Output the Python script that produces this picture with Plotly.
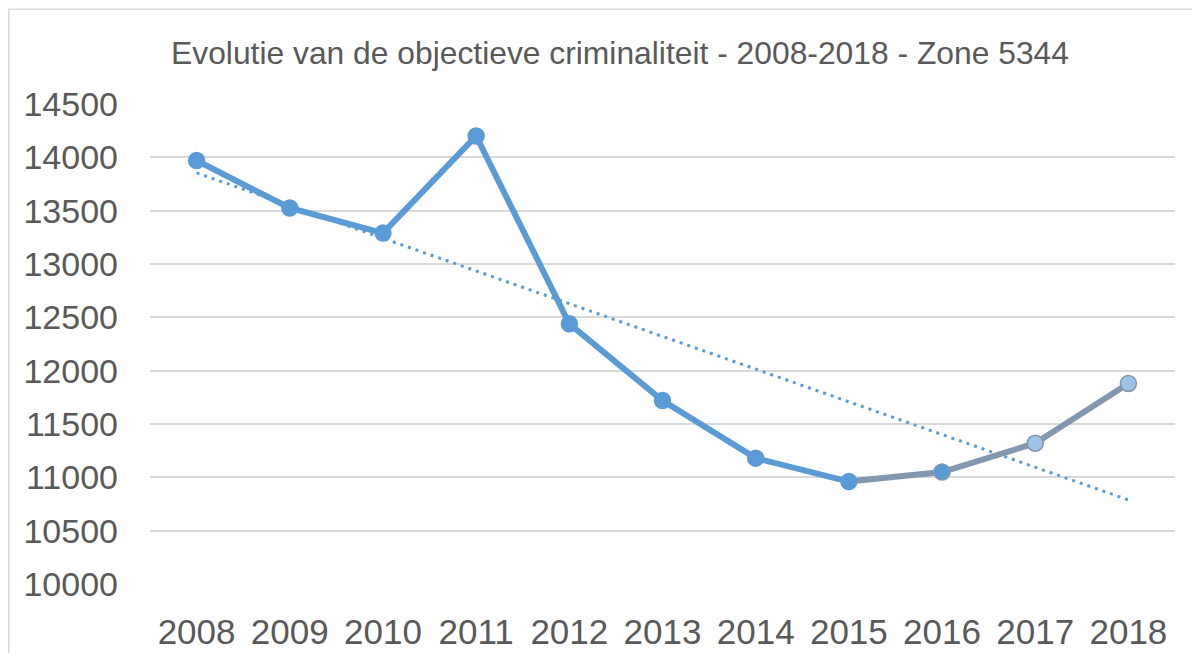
import numpy as np
import plotly.graph_objects as go

years = ["2008", "2009", "2010", "2011", "2012", "2013", "2014", "2015", "2016", "2017", "2018"]
values = [13970, 13525, 13290, 14200, 12440, 11720, 11180, 10960, 11050, 11320, 11880]
title_text = "Evolutie van de objectieve criminaliteit - 2008-2018 - Zone 5344"
y_ticks = [10000, 10500, 11000, 11500, 12000, 12500, 13000, 13500, 14000, 14500]
y_ticktext = [str(v) for v in y_ticks]

BLUE = "#5B9BD5"
GREY = "#8497B0"
LIGHT = "#9DC3E6"
TXT = "#595959"
GRID = "#D9D9D9"

# linear trendline fitted to the data
idx = np.arange(len(values))
slope, intercept = np.polyfit(idx, values, 1)
trend = slope * idx + intercept

fig = go.Figure()

fig.add_trace(go.Scatter(x=years, y=trend, mode="lines",
                         line=dict(color=BLUE, width=3, dash="3px,5px"),
                         hoverinfo="skip", showlegend=False))

fig.add_trace(go.Scatter(x=years[:8], y=values[:8], mode="lines",
                         line=dict(color=BLUE, width=6), showlegend=False))
fig.add_trace(go.Scatter(x=years[7:], y=values[7:], mode="lines",
                         line=dict(color=GREY, width=6), showlegend=False))

m_colors = [BLUE] * 9 + [LIGHT, LIGHT]
m_lines = [BLUE] * 8 + [GREY, GREY, GREY]
fig.add_trace(go.Scatter(x=years, y=values, mode="markers",
                         marker=dict(size=16, color=m_colors,
                                     line=dict(color=m_lines, width=1.5)),
                         showlegend=False))

# the page body has an 8px margin: figure coords = page coords - 8
OFF = 8
W, H = 1200, 653
L = 150 - OFF
T = 104 - OFF
R = W - (1175 - OFF)
B = H - (584 - OFF)
pw, ph = W - L - R, H - T - B

def px(x):
    return (x - OFF - L) / pw

def py(y):
    return (H - B - (y - OFF)) / ph

fig.add_shape(type="rect", xref="paper", yref="paper",
              x0=px(8.8), x1=px(1240), y0=py(700), y1=py(9.3),
              line=dict(color=GRID, width=1.5), fillcolor="rgba(0,0,0,0)", layer="below")

fig.update_layout(
    width=W, height=H,
    margin=dict(l=L, r=R, t=T, b=B, autoexpand=False),
    paper_bgcolor="white", plot_bgcolor="white",
    font=dict(family="Liberation Sans, Arial, sans-serif", color=TXT),
    title=dict(text=title_text, x=(620 - OFF) / W, xanchor="center",
               y=1 - (53 - OFF) / H, yanchor="middle",
               font=dict(size=31.8, color=TXT)),
    xaxis=dict(type="category", range=[-0.5, len(years) - 0.5],
               showgrid=False, showline=False, zeroline=False,
               automargin=False,
               ticks="", tickfont=dict(size=35, color=TXT), ticklabelstandoff=24),
    yaxis=dict(range=[10000, 14500], tickvals=y_ticks, ticktext=y_ticktext,
               showgrid=True, automargin=False,
               gridcolor=GRID, gridwidth=1.5, zeroline=False, showline=False,
               ticks="", tickfont=dict(size=34, color=TXT), ticklabelstandoff=31),
)

fig.write_html("out.html")
